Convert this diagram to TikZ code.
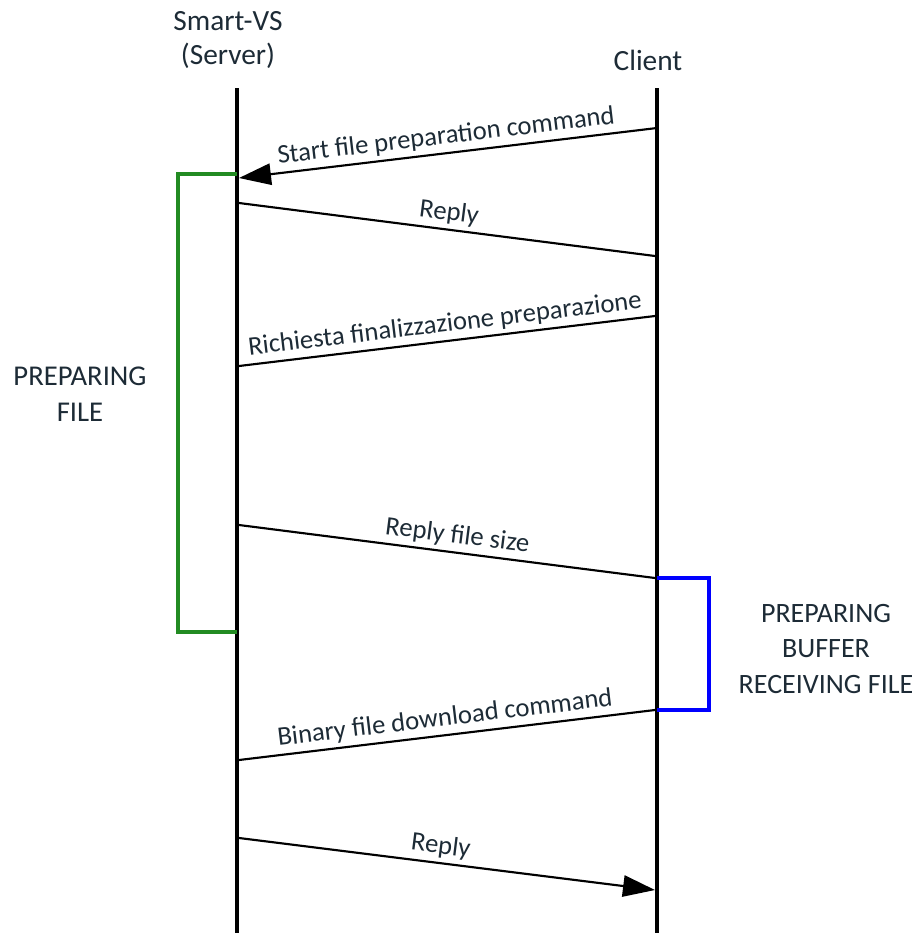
\documentclass[tikz,border=0pt]{standalone}
\usepackage{fontspec}
\setmainfont{Carlito}
\usetikzlibrary{arrows.meta}
\definecolor{txt}{RGB}{29,43,54}
\definecolor{grn}{RGB}{34,139,34}
\definecolor{blu}{RGB}{0,0,255}
\begin{document}
\begin{tikzpicture}[x=0.75pt,y=-0.75pt,
  head/.style={text=txt,font=\fontsize{22}{26}\selectfont,align=center,inner sep=0pt},
  side/.style={text=txt,font=\fontsize{21.5}{27}\selectfont,align=center,inner sep=0pt},
  lbl/.style={text=txt,font=\fontsize{20}{24}\selectfont,sloped,above,inner sep=3pt},
  life/.style={line width=3.6pt},
  msg/.style={line width=1.6pt},
  arr/.style={msg,-{Triangle[length=24pt,width=16pt]}},
  gbr/.style={grn,line width=3.6pt},
  bbr/.style={blu,line width=3.6pt}]
\useasboundingbox (0,0) rectangle (913,933);
% headers
\node[head] (srv) at (228,40) {Smart-VS\\(Server)};
\node[head] (cli) at (648,60) {Client};
% lifelines
\coordinate (st) at (237,88); \coordinate (sb) at (237,933);
\coordinate (ct) at (657,88); \coordinate (cb) at (657,933);
\draw[life] (st) -- (sb);
\draw[life] (ct) -- (cb);
% message endpoints
\coordinate (c1) at (657,128); \coordinate (s1) at (239,178);
\coordinate (s2) at (239,203); \coordinate (c2) at (655,256);
\coordinate (c3) at (655,316); \coordinate (s3) at (239,366);
\coordinate (s4) at (239,525); \coordinate (c4) at (655,578);
\coordinate (c5) at (655,710); \coordinate (s5) at (239,760);
\coordinate (s6) at (239,838); \coordinate (c6) at (655,890);
\draw[arr] (c1) -- node[lbl] (l1) {Start file preparation command} (s1);
\draw[msg] (s2) -- node[lbl] (l2) {Reply} (c2);
\draw[msg] (c3) -- node[lbl] (l3) {Richiesta finalizzazione preparazione} (s3);
\draw[msg] (s4) -- node[lbl,pos=0.52] (l4) {Reply file size} (c4);
\draw[msg] (c5) -- node[lbl] (l5) {Binary file download command} (s5);
\draw[arr] (s6) -- node[lbl,pos=0.48] (l6) {Reply} (c6);
% green bracket
\coordinate (g1) at (237,174); \coordinate (g2) at (178,174);
\coordinate (g3) at (178,632); \coordinate (g4) at (237,632);
\draw[gbr] (g1) -- (g2) -- (g3) -- (g4);
% blue bracket
\coordinate (b1) at (657,578); \coordinate (b2) at (709,578);
\coordinate (b3) at (709,710); \coordinate (b4) at (657,710);
\draw[bbr] (b1) -- (b2) -- (b3) -- (b4);
% side labels
\node[side] (pf) at (80,394) {PREPARING\\FILE};
\node[side,font=\fontsize{21}{27}\selectfont] (pb) at (826,649) {PREPARING\\BUFFER\\RECEIVING FILE};
\end{tikzpicture}
\end{document}
